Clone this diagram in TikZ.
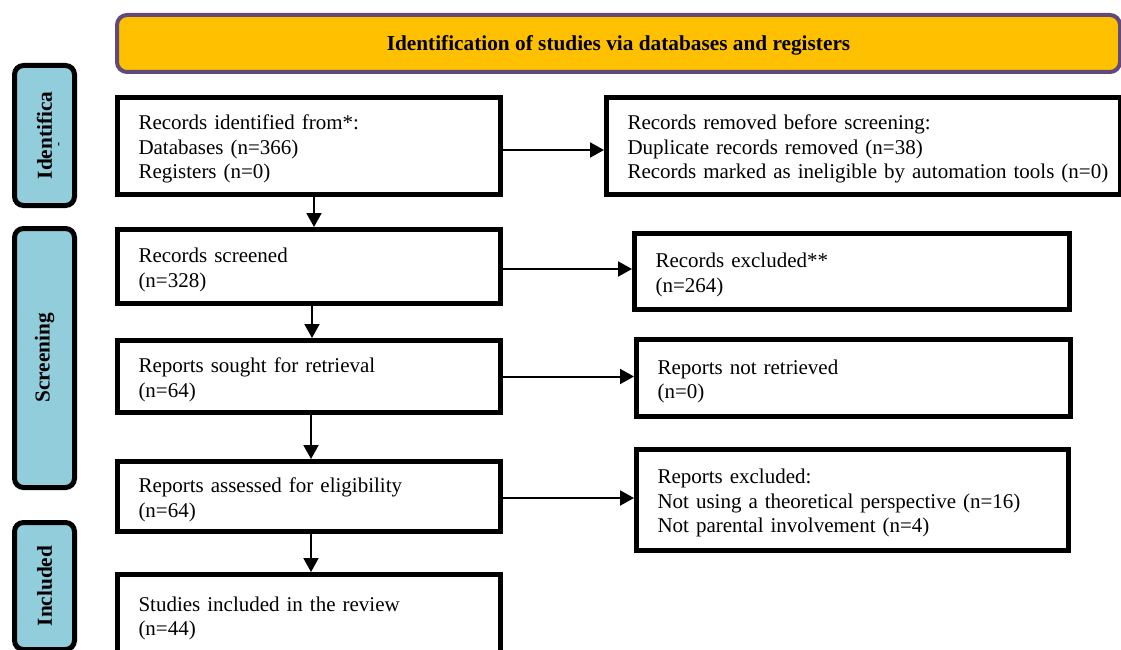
\documentclass[tikz,border=0pt]{standalone}
\usepackage{fontspec}
\setmainfont{Liberation Serif}
\usetikzlibrary{arrows.meta}
\definecolor{hdrfill}{HTML}{FFC000}
\definecolor{hdrline}{HTML}{604A7B}
\definecolor{sidefill}{HTML}{92CDDC}
\begin{document}
\begin{tikzpicture}[x=1pt,y=-1pt,
  every node/.style={font=\fontsize{21}{24.5}\selectfont},
  mainbox/.style={draw=black, line width=5pt, fill=white, rectangle, inner xsep=21pt, inner ysep=0pt, align=left,
    execute at begin node={\rule{0pt}{21pt}}},
  sidebox/.style={draw=black, line width=5pt, fill=sidefill, rounded corners=9pt, rotate=90, inner sep=0pt, font=\fontsize{21.3}{24.5}\selectfont\bfseries},
  hdrbox/.style={draw=hdrline, line width=4pt, fill=hdrfill, rounded corners=10pt, inner sep=0pt, font=\fontsize{21.3}{24.5}\selectfont\bfseries},
  flowarrow/.style={line width=2pt, -{Triangle[length=14pt,width=15pt]}}
]
\useasboundingbox (0,0) rectangle (1121,650);

% header
\node[hdrbox, minimum width=1003, minimum height=57] (hdr) at (618.5,43.5) {\rule{0pt}{19pt}Identification of studies via databases and registers};

% side labels
\node[sidebox, minimum width=140, minimum height=60] (sid) at (44.5,135.5) {Identifica};
\node[font=\fontsize{12}{12}\selectfont\bfseries, rotate=90, inner sep=0pt] (siddot) at (60,145) {-};
\node[sidebox, minimum width=259, minimum height=60] (sscr) at (44.5,358) {Screening};
\node[sidebox, minimum width=127, minimum height=60] (sinc) at (44.5,586) {Included};

% left column
\node[mainbox, minimum width=383, minimum height=97, text width=341pt] (b1) at (309,146)
  {Records identified from*:\\Databases (n=366)\\Registers (n=0)};
\node[mainbox, minimum width=383, minimum height=74, text width=341pt] (b2) at (309,266.5)
  {Records screened\\(n=328)};
\node[mainbox, minimum width=383, minimum height=72, text width=341pt] (b3) at (309,376.5)
  {Reports sought for retrieval\\(n=64)};
\node[mainbox, minimum width=383, minimum height=70, text width=341pt] (b4) at (309,496.5)
  {Reports assessed for eligibility\\(n=64)};
\node[mainbox, minimum width=383, minimum height=81, text width=341pt] (b5) at (309,615)
  {Studies included in the review\\(n=44)};

% right column
\node[mainbox, minimum width=514, minimum height=97, text width=472pt] (r1) at (863.5,146)
  {Records removed before screening:\\Duplicate records removed (n=38)\\\mbox{Records marked as ineligible by automation tools (n=0)}};
\node[mainbox, minimum width=435, minimum height=76, text width=393pt] (r2) at (852,271.5)
  {Records excluded**\\(n=264)};
\node[mainbox, minimum width=434, minimum height=77, text width=392pt] (r3) at (853.5,378)
  {Reports not retrieved\\(n=0)};
\node[mainbox, minimum width=432, minimum height=101, text width=390pt] (r4) at (852.5,500)
  {Reports excluded:\\Not using a theoretical perspective (n=16)\\Not parental involvement (n=4)};

% vertical arrows
\draw[flowarrow] ([xshift=5pt]b1.south) -- ([xshift=5pt]b2.north);
\draw[flowarrow] ([xshift=3pt]b2.south) -- ([xshift=3pt]b3.north);
\draw[flowarrow] ([xshift=2pt]b3.south) -- ([xshift=2pt]b4.north);
\draw[flowarrow] ([xshift=2pt]b4.south) -- ([xshift=2pt]b5.north);

% horizontal arrows
\draw[flowarrow] ([yshift=-4pt]b1.east) -- ([yshift=-4pt]b1.east -| r1.west);
\draw[flowarrow] ([yshift=-2.5pt]b2.east) -- ([yshift=-2.5pt]b2.east -| r2.west);
\draw[flowarrow] (b3.east) -- (b3.east -| r3.west);
\draw[flowarrow] ([yshift=-1.5pt]b4.east) -- ([yshift=-1.5pt]b4.east -| r4.west);
\end{tikzpicture}
\end{document}
